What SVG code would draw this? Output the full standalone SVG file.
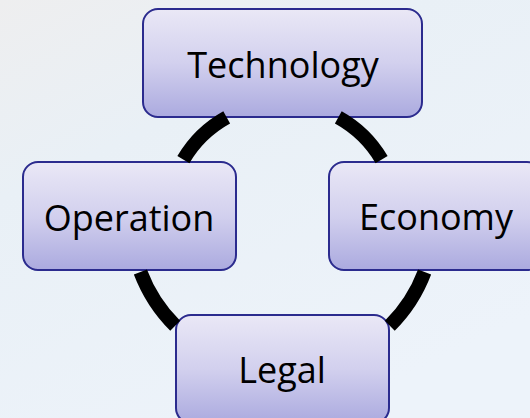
<svg xmlns="http://www.w3.org/2000/svg" width="530" height="418" viewBox="0 0 530 418">
  <defs>
    <linearGradient id="bg" x1="0" y1="0" x2="0.6" y2="1">
      <stop offset="0" stop-color="#EEEEEF"/>
      <stop offset="0.35" stop-color="#E9F0F6"/>
      <stop offset="1" stop-color="#EDF3FA"/>
    </linearGradient>
    <linearGradient id="boxfill" x1="0" y1="0" x2="0" y2="1">
      <stop offset="0" stop-color="#EAE8F6"/>
      <stop offset="0.5" stop-color="#D2D0EE"/>
      <stop offset="1" stop-color="#ABAADF"/>
    </linearGradient>
    <style>
      .box { fill: url(#boxfill); stroke: #2B2B8E; stroke-width: 2; }
      .label { font-family: "Open Sans", "Liberation Sans", sans-serif; font-size: 36px; fill: #000000; text-anchor: middle; }
      .arc { fill: none; stroke: #000000; stroke-width: 14; stroke-linecap: butt; }
    </style>
  </defs>
  <rect x="0" y="0" width="530" height="418" fill="url(#bg)"/>

  <g id="technology">
    <rect class="box" x="143" y="9" width="279" height="108" rx="15" ry="15"/>
    <text class="label" x="283" y="77.5">Technology</text>
  </g>
  <g id="operation">
    <rect class="box" x="23" y="162" width="213" height="108" rx="15" ry="15"/>
    <text class="label" x="129" y="231">Operation</text>
  </g>
  <g id="economy">
    <rect class="box" x="329" y="162" width="213" height="108" rx="15" ry="15"/>
    <text class="label" x="436" y="230">Economy</text>
  </g>
  <g id="legal">
    <rect class="box" x="176" y="315" width="213" height="108" rx="15" ry="15"/>
    <text class="label" x="282" y="382.7">Legal</text>
  </g>

  <g id="connectors">
    <path class="arc" d="M183.4,159.6 A115,115 0 0 1 226.7,117.4"/>
    <path class="arc" d="M338.3,117.4 A115,115 0 0 1 381.6,159.6"/>
    <path class="arc" d="M424.6,271.9 A152,152 0 0 1 389.8,325.7"/>
    <path class="arc" d="M175.2,325.7 A152,152 0 0 1 140.4,271.9"/>
  </g>
</svg>
